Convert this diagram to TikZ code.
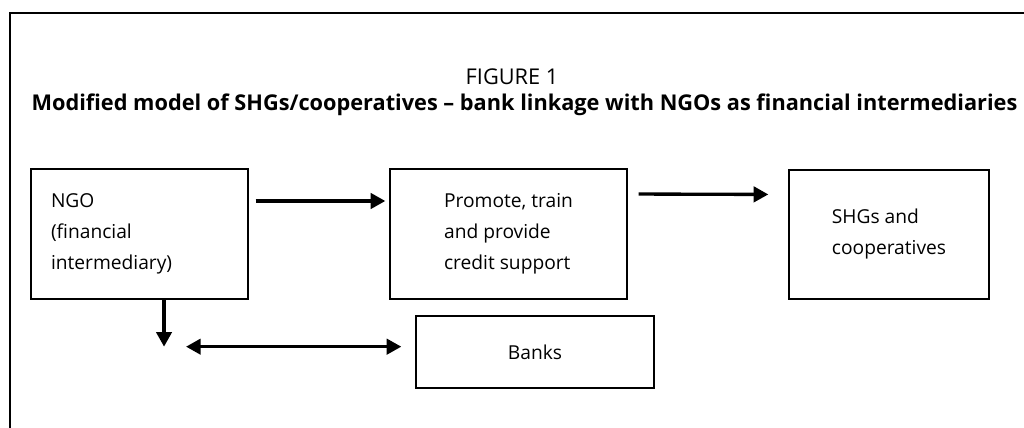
\documentclass[tikz,border=0pt]{standalone}
\usepackage{fontspec}
\setmainfont{Open Sans}
\usetikzlibrary{arrows.meta}

\begin{document}
\begin{tikzpicture}[x=0.75pt, y=-0.75pt,
    box/.style={draw, line width=1pt, align=left, inner sep=0pt, font=\fontsize{14.4}{23.25}\selectfont},
    flow/.style={line width=2.5pt, -{Triangle[length=11pt, width=11.5pt]}},
    both/.style={line width=2.5pt, {Triangle[length=11pt, width=11.5pt]}-{Triangle[length=11pt, width=11.5pt]}}]
    \useasboundingbox (0,0) rectangle (1024,428);

    % ========== Ramka i tytul ==========
    \draw[line width=0.8pt] (1024,13) -- (10,13) -- (10,428);
    \node[font=\fontsize{16.3}{20}\selectfont] (fignum) at (512,77) {FIGURE 1};
    \node[font=\fontsize{16.3}{20}\selectfont\bfseries] (title) at (524.5,105)
        {Modified model of SHGs/cooperatives -- bank linkage with NGOs as financial intermediaries};

    % ========== Prostokaty ==========
    \node[box, minimum width=162.75pt, minimum height=97.5pt, text width=132.75pt] (ngo) at (139.5,234)
        {NGO\\(financial\\intermediary)};
    \node[box, minimum width=177.75pt, minimum height=97.5pt] (promote) at (508.5,234)
        {Promote, train\\and provide\\credit support};
    \node[box, minimum width=150pt, minimum height=96.75pt] (shg) at (889,234.5)
        {SHGs and\\cooperatives};
    \node[box, minimum width=178.5pt, minimum height=54pt, align=center] (banks) at (535,352)
        {Banks};

    % ========== Strzalki ==========
    \draw[flow, shorten <=5.25pt, shorten >=3pt] ([yshift=24.75pt]ngo.east) -- ([yshift=24.75pt]promote.west);
    \draw[flow, shorten <=8.25pt, shorten >=15pt] ([yshift=30pt]promote.east) -- ([yshift=30pt]shg.west);

    % NGO -> banki (strzalka w dol i podwojna)
    \coordinate (turn) at ([xshift=18.4pt, yshift=-35.25pt]ngo.south);
    \draw[flow] ([xshift=18.4pt]ngo.south) -- (turn);
    \draw[both, shorten <=16.5pt, shorten >=10.5pt] (turn) -- (turn -| banks.west);
\end{tikzpicture}
\end{document}
